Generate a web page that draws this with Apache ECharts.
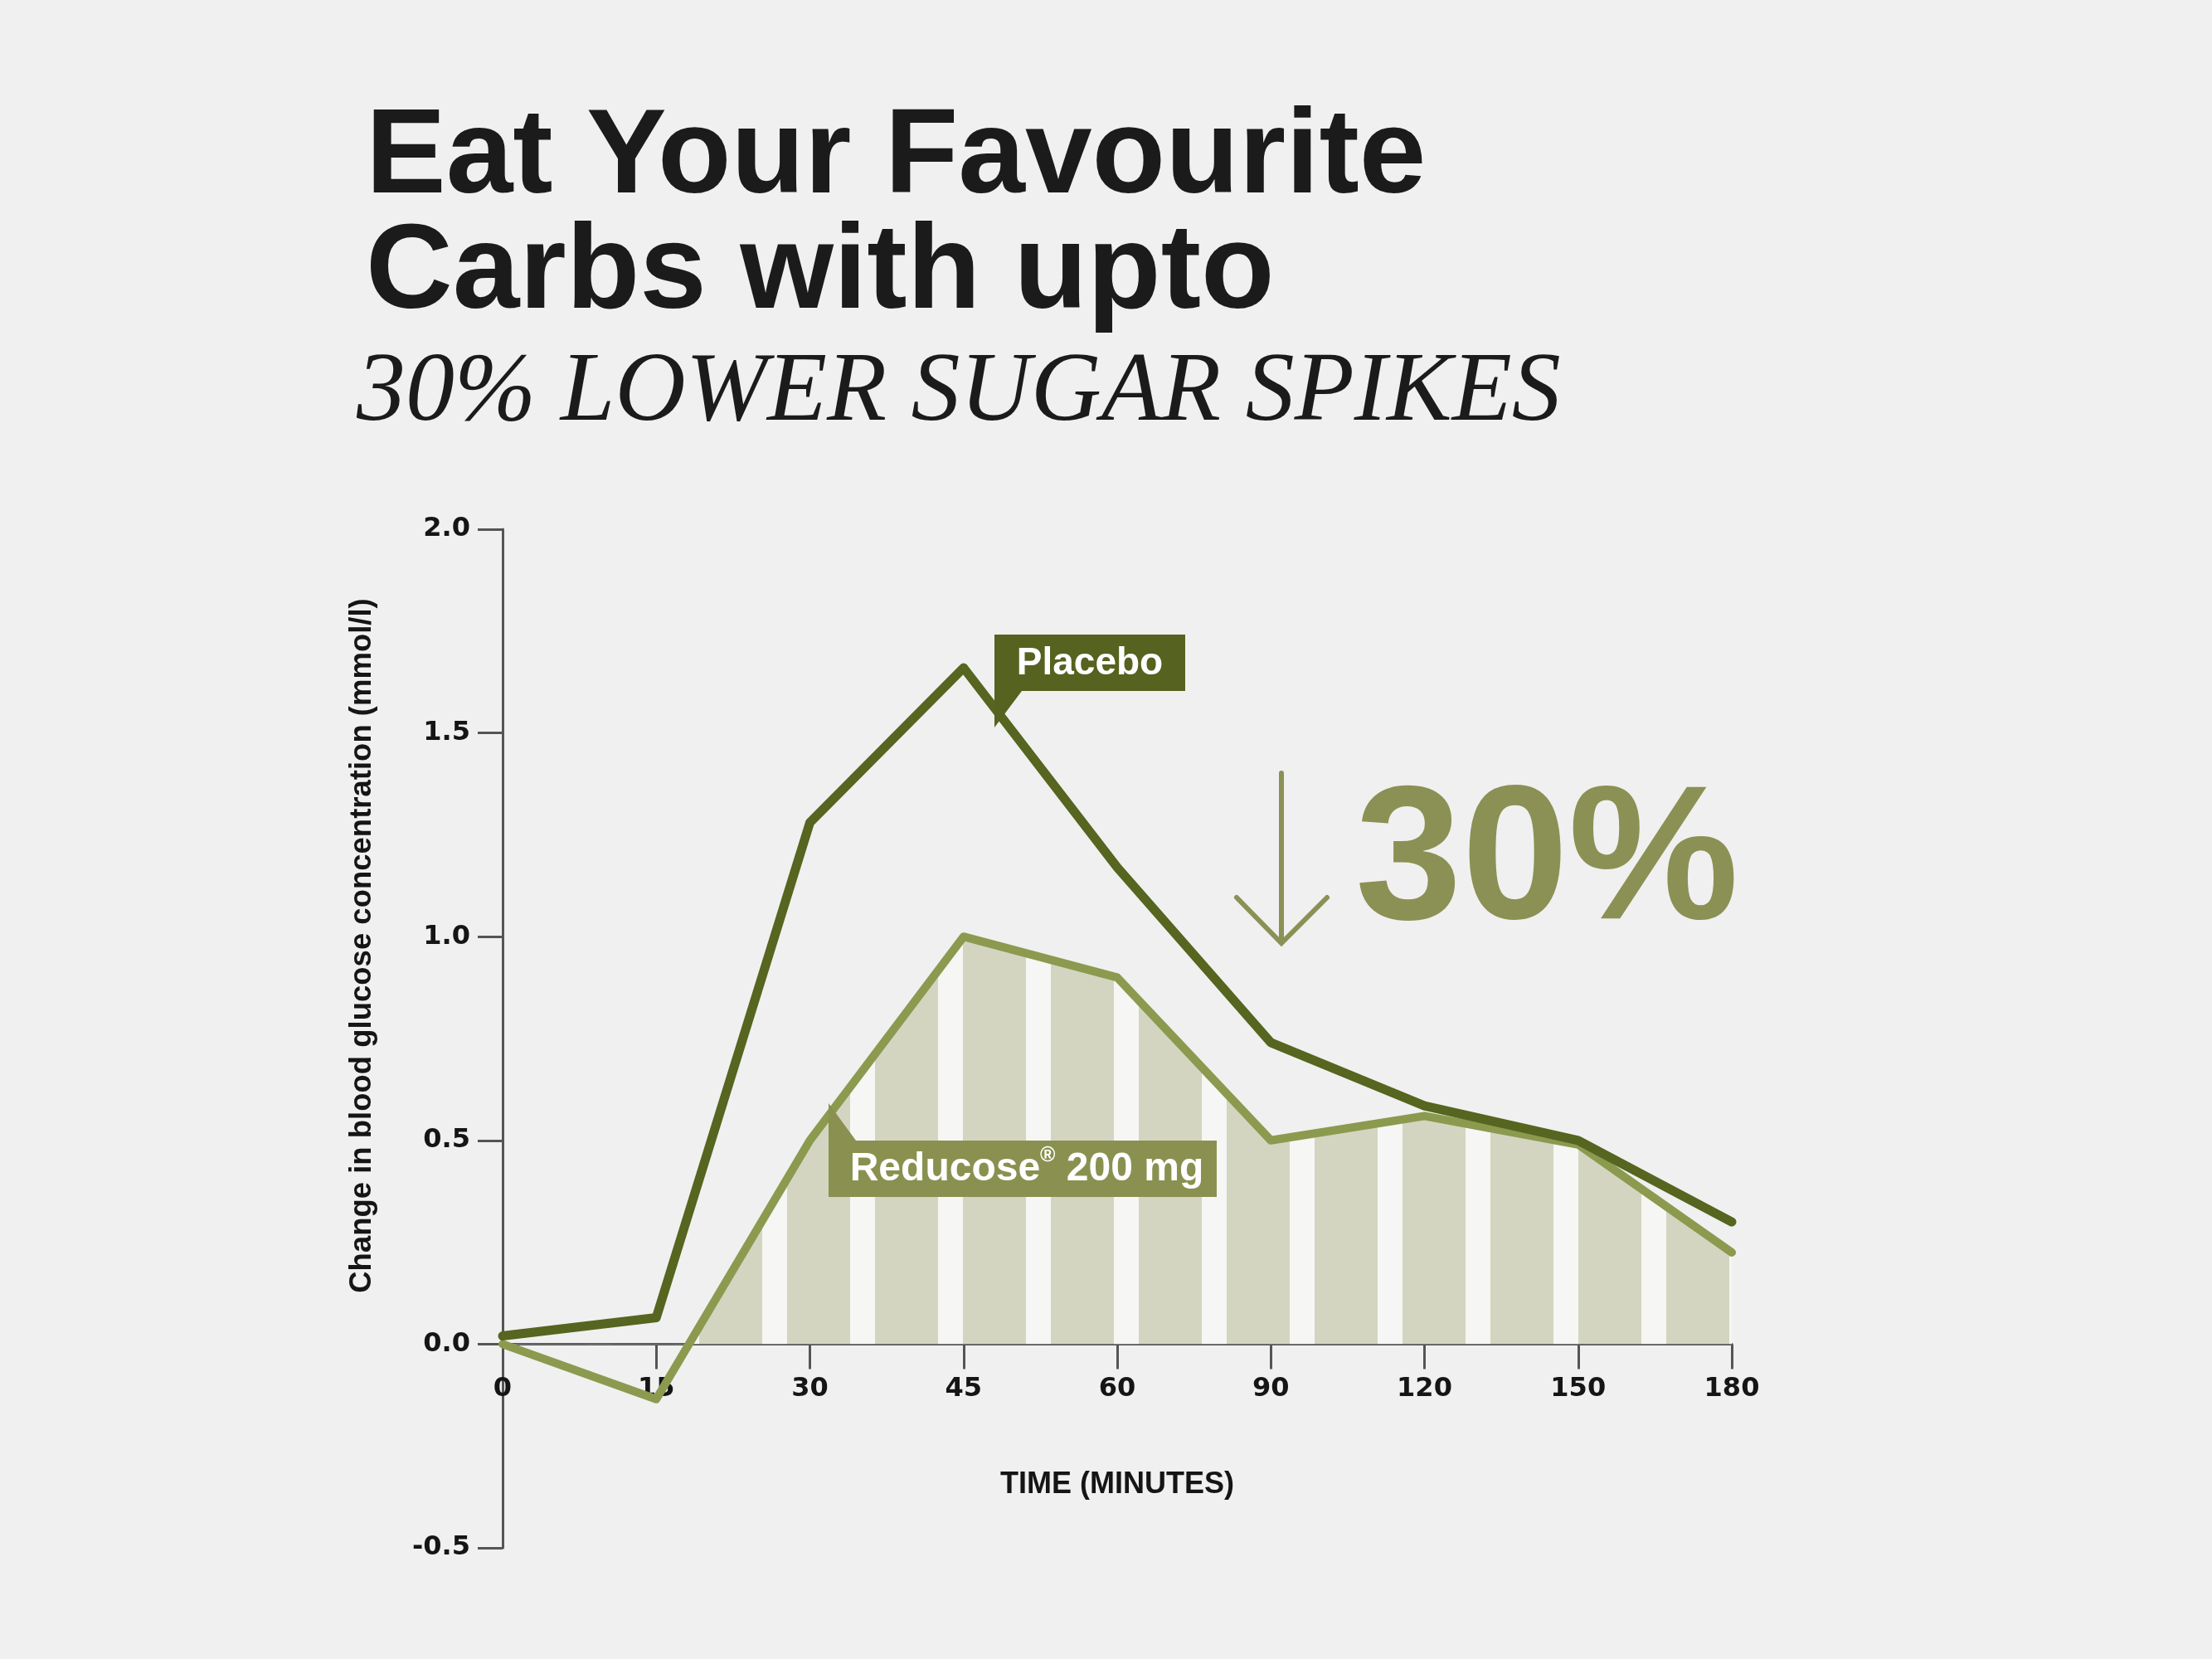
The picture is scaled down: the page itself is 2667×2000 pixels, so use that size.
<!DOCTYPE html>
<html>
<head>
<meta charset="utf-8">
<script src="https://cdn.jsdelivr.net/npm/echarts@6/dist/echarts.min.js"></script>
<style>
html,body{margin:0;padding:0;background:#f0f0f0;}
#chart{width:2667px;height:2000px;}
</style>
</head>
<body>
<div id="chart"></div>
<script>
// ---- data ----
const categories = ['0', '15', '30', '45', '60', '90', '120', '150', '180'];
const placebo = [0.02, 0.065, 1.28, 1.66, 1.17, 0.74, 0.585, 0.50, 0.30];
const reducose = [0.0, -0.135, 0.50, 1.00, 0.90, 0.50, 0.56, 0.49, 0.225];
const yMin = -0.5, yMax = 2.0, yStep = 0.5;
const titleText = 'Eat Your Favourite\nCarbs with upto';
const subtitleText = '30% LOWER SUGAR SPIKES';
const placeboLabel = 'Placebo';
const bigPercent = '30%';

// ---- layout ----
const W = 2667, H = 2000;
const gLeft = 606, gRightX = 2088, gTop = 638, gBottomY = 1866;
const zeroY = gTop + (yMax - 0) / (yMax - yMin) * (gBottomY - gTop);

// striped pattern for the area under Reducose
const pc = document.createElement('canvas');
pc.width = 106; pc.height = 4;
const pctx = pc.getContext('2d');
pctx.fillStyle = '#f6f6f4';
pctx.fillRect(0, 0, 106, 4);
pctx.fillStyle = '#d3d5c1';
pctx.fillRect(0, 0, 71, 4);
pctx.fillRect(101, 0, 5, 4);

const chart = echarts.init(document.getElementById('chart'), null, {renderer: 'canvas'});
const tickFont = {fontFamily: 'DejaVu Sans', fontWeight: 'bold', fontSize: 32, color: '#151515'};

chart.setOption({
  backgroundColor: '#f0f0f0',
  animation: false,
  title: [
    {
      text: titleText, left: 441, top: 123, padding: 0,
      textStyle: {fontFamily: 'Liberation Sans', fontWeight: 'bold', fontSize: 145, lineHeight: 139, color: '#1b1b1b'}
    },
    {
      text: subtitleText, left: 430, top: 416, padding: 0,
      textStyle: {fontFamily: 'Liberation Serif', fontStyle: 'italic', fontWeight: 'normal', fontSize: 118, lineHeight: 118, color: '#1b1b1b'}
    }
  ],
  grid: [
    {left: gLeft, right: W - gRightX, top: gTop, bottom: H - gBottomY, containLabel: false, outerBoundsMode: 'none'},
    {left: gLeft, right: W - gRightX, top: gTop, bottom: H - zeroY, containLabel: false, outerBoundsMode: 'none'}
  ],
  xAxis: [
    {gridIndex: 0, type: 'category', data: categories, boundaryGap: false, show: false},
    {
      gridIndex: 1, type: 'category', data: categories, boundaryGap: false, position: 'bottom',
      axisLine: {show: true, onZero: false, lineStyle: {color: '#555', width: 3}},
      axisTick: {show: true, length: 30, interval: 0, lineStyle: {color: '#555', width: 3}},
      axisLabel: Object.assign({margin: 38, interval: 0}, tickFont),
      splitLine: {show: false},
      name: 'TIME (MINUTES)', nameLocation: 'middle', nameGap: 152,
      nameTextStyle: {fontFamily: 'Liberation Sans', fontWeight: 'bold', fontSize: 36, color: '#151515'}
    }
  ],
  yAxis: [
    {
      gridIndex: 0, type: 'value', min: yMin, max: yMax, interval: yStep,
      axisLine: {show: true, onZero: false, lineStyle: {color: '#555', width: 3}},
      axisTick: {show: true, length: 30, lineStyle: {color: '#555', width: 3}},
      axisLabel: Object.assign({margin: 39, formatter: v => v.toFixed(1)}, tickFont),
      splitLine: {show: false},
      name: 'Change in blood glucose concentration (mmol/l)', nameLocation: 'middle', nameGap: 151, nameRotate: 90,
      nameTextStyle: {fontFamily: 'Liberation Sans', fontWeight: 'bold', fontSize: 36.5, color: '#151515', padding: [0, 0, 0, 224]}
    },
    {gridIndex: 1, type: 'value', min: 0, max: yMax, show: false}
  ],
  series: [
    {
      name: 'Reducose area', type: 'line', xAxisIndex: 1, yAxisIndex: 1, data: reducose,
      showSymbol: false, symbol: 'none', silent: true, clip: true, z: 1,
      lineStyle: {width: 0, opacity: 0},
      areaStyle: {color: {image: pc, repeat: 'repeat'}, opacity: 1}
    },
    {
      name: 'Reducose 200 mg', type: 'line', xAxisIndex: 0, yAxisIndex: 0, data: reducose,
      showSymbol: false, symbol: 'none', z: 3, color: '#8b9a4e',
      lineStyle: {width: 10, color: '#8b9a4e', cap: 'round', join: 'round'}
    },
    {
      name: 'Placebo', type: 'line', xAxisIndex: 0, yAxisIndex: 0, data: placebo,
      showSymbol: false, symbol: 'none', z: 4, color: '#56651f',
      lineStyle: {width: 11, color: '#56651f', cap: 'round', join: 'round'}
    }
  ],
  graphic: [
    {
      type: 'polygon', z: 10,
      shape: {points: [[1199, 765], [1429, 765], [1429, 833], [1232, 833], [1199, 877]]},
      style: {fill: '#56621f'}
    },
    {
      type: 'text', z: 11, x: 1314, y: 800,
      style: {text: placeboLabel, fill: '#ffffff', fontFamily: 'Liberation Sans', fontWeight: 'bold', fontSize: 46, align: 'center', verticalAlign: 'middle'}
    },
    {
      type: 'polygon', z: 10,
      shape: {points: [[999, 1330], [1032, 1375], [1467, 1375], [1467, 1443], [999, 1443]]},
      style: {fill: '#8a9150'}
    },
    {
      type: 'text', z: 11, x: 1238, y: 1410,
      style: {
        text: '{a|Reducose}{s|®}{a| 200 mg}', fill: '#ffffff', align: 'center', verticalAlign: 'middle',
        rich: {
          a: {fontFamily: 'Liberation Sans', fontWeight: 'bold', fontSize: 48, lineHeight: 58, fill: '#ffffff', color: '#ffffff'},
          s: {fontFamily: 'Liberation Sans', fontWeight: 'bold', fontSize: 25, lineHeight: 30, verticalAlign: 'top', fill: '#ffffff', color: '#ffffff'}
        }
      }
    },
    {
      type: 'text', z: 11, x: 1634, y: 1043,
      style: {text: bigPercent, fill: '#8b9154', fontFamily: 'Liberation Sans', fontWeight: 'bold', fontSize: 231, align: 'left', verticalAlign: 'middle'}
    },
    {
      type: 'line', z: 11,
      shape: {x1: 1545, y1: 932, x2: 1545, y2: 1136},
      style: {stroke: '#8b9154', lineWidth: 6, lineCap: 'round'}
    },
    {
      type: 'polyline', z: 11,
      shape: {points: [[1491, 1082], [1545, 1137], [1600, 1082]]},
      style: {stroke: '#8b9154', lineWidth: 6, lineCap: 'round', lineJoin: 'miter', fill: null}
    }
  ]
});
</script>
</body>
</html>
